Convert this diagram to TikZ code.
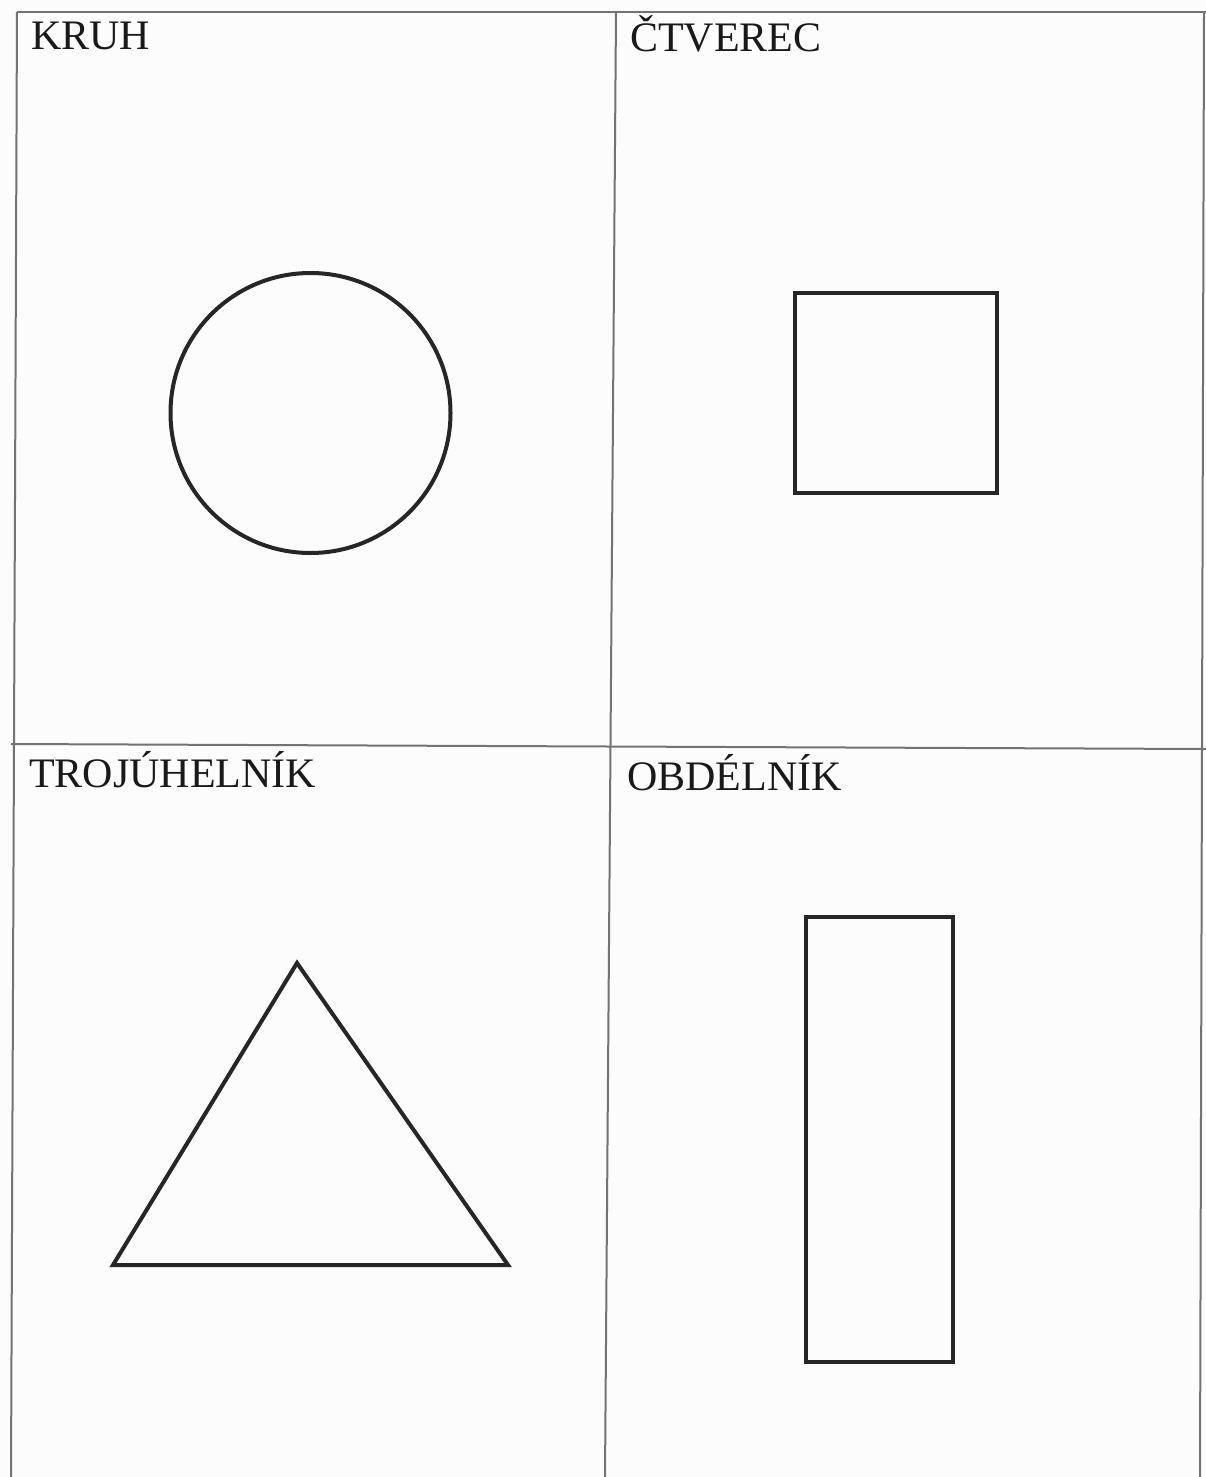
\documentclass[tikz,border=0pt]{standalone}
\usepackage{fontspec}
\setmainfont{Liberation Serif}
\begin{document}
\begin{tikzpicture}[x=1pt,y=-1pt,
  gridline/.style={draw=black!55, line width=2pt},
  shapeline/.style={draw=black!85, line width=4pt, line join=miter},
  label/.style={anchor=base west, inner sep=0pt, text=black!90, font=\fontsize{42}{50}\selectfont}]
\fill[white!98!gray] (0,0) rectangle (1206,1477);
\useasboundingbox (0,0) rectangle (1206,1477);
% table grid
\draw[gridline] (17,12) -- (1206,12);
\draw[gridline] (17,12) -- (11,1477);
\draw[gridline] (616,12) -- (605,1477);
\draw[gridline] (1204,12) -- (1200,1477);
\draw[gridline] (11,744) -- (1206,749);
% labels
\node[label] (kruh) at (31,50) {KRUH};
\node[label] (ctverec) at (630,52) {ČTVEREC};
\node[label] (troj) at (29,787) {TROJÚHELNÍK};
\node[label] (obdel) at (627,790) {OBDÉLNÍK};
% shapes
\draw[shapeline] (310.5,413) circle (140);
\draw[shapeline] (795,293) rectangle (997,493);
\draw[shapeline] (297,963) -- (508,1265) -- (113,1265) -- cycle;
\draw[shapeline] (806,917) rectangle (953,1362);
\end{tikzpicture}
\end{document}
